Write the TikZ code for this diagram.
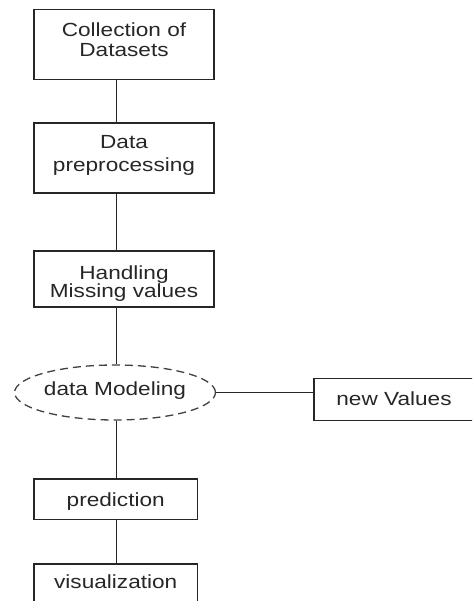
\documentclass[tikz,border=0pt]{standalone}
\usepackage{fontspec}
\setmainfont[FakeStretch=1.19]{Liberation Sans}
\usetikzlibrary{shapes.geometric}
\begin{document}
\begin{tikzpicture}[x=1pt,y=-1pt,
  every node/.style={font=\fontsize{19}{21}\selectfont, text=black!85},
  box/.style={draw=black!85, line width=1.4pt, rectangle, inner sep=0pt, align=center, text depth=0pt},
  thickbox/.style={box, line width=2.2pt},
  dashell/.style={draw=black!75, ellipse, dash pattern=on 8pt off 5pt, line width=1.3pt, inner sep=0pt, text depth=0pt},
  link/.style={draw=black!85, line width=1.4pt}]
\useasboundingbox (0,0) rectangle (472,601);
\clip (0,0) rectangle (472,601);
\coordinate (axis) at (116.5,0);
\node[box, minimum width=180pt, minimum height=70pt, text height=25.2pt] (b1) at (124,44.4) {Collection of\\[-1pt]Datasets};
\node[thickbox, minimum width=180pt, minimum height=69.4pt, text height=26.6pt] (b2) at (124,158) {Data\\[2pt]preprocessing};
\node[thickbox, minimum width=180pt, minimum height=55.7pt, text height=36.9pt] (b3) at (124,278.85) {Handling\\[-3pt]Missing values};
\node[dashell, minimum width=196pt, minimum height=55pt, text height=6.4pt] (ell) at (115,392.5) {data Modeling};
\node[box, minimum width=160pt, minimum height=42.4pt, text height=12.4pt] (nv) at (394,399.5) {new Values};
\node[box, minimum width=163.5pt, minimum height=40.3pt, text height=13.6pt] (pred) at (115.75,499.2) {prediction};
\node[box, minimum width=163.5pt, minimum height=40pt, text height=8.6pt] (vis) at (115.75,584) {visualization};
\draw[link] (b1.south -| axis) -- (b2.north -| axis);
\draw[link] (b2.south -| axis) -- (b3.north -| axis);
\draw[link] (b3.south -| axis) -- (ell.north -| axis);
\draw[link] (ell.east) -- (ell.east -| nv.west);
\draw[link] (ell.south -| axis) -- (pred.north -| axis);
\draw[link] (pred.south -| axis) -- (vis.north -| axis);
\end{tikzpicture}
\end{document}
